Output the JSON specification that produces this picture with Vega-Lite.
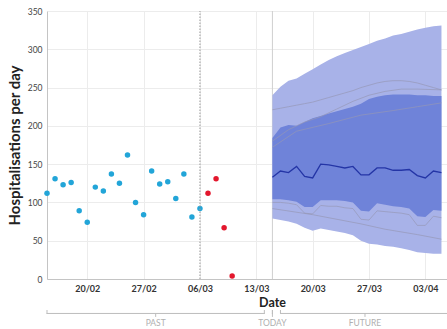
{
  "$schema": "https://vega.github.io/schema/vega-lite/v6.json",
  "width": 400,
  "height": 268,
  "autosize": {"type": "none"},
  "padding": {"left": 47, "top": 11, "right": 0, "bottom": 50},
  "background": "white",
  "config": {
    "view": {"stroke": null},
    "font": "Lato",
    "axis": {"gridColor": "#ececec", "domainColor": "#c4c4c4", "ticks": false},
    "axisX": {
      "labelFontSize": 9, "labelFontWeight": "bold", "labelColor": "#333", "labelPadding": 5,
      "titleFontSize": 12.5, "titleFontWeight": "bold", "titleColor": "#222",
      "titleX": 225, "titleY": 27, "titleBaseline": "alphabetic"
    },
    "axisY": {
      "labelFontSize": 8.5, "labelColor": "#444", "labelPadding": 5,
      "titleFontSize": 15, "titleFontWeight": "bold", "titleColor": "#222", "titlePadding": 5
    }
  },
  "datasets": {
    "obs": [
      {"date": "2021-02-15", "value": 112, "kind": "past"},
      {"date": "2021-02-16", "value": 131, "kind": "past"},
      {"date": "2021-02-17", "value": 123, "kind": "past"},
      {"date": "2021-02-18", "value": 126, "kind": "past"},
      {"date": "2021-02-19", "value": 89, "kind": "past"},
      {"date": "2021-02-20", "value": 74, "kind": "past"},
      {"date": "2021-02-21", "value": 120, "kind": "past"},
      {"date": "2021-02-22", "value": 115, "kind": "past"},
      {"date": "2021-02-23", "value": 137, "kind": "past"},
      {"date": "2021-02-24", "value": 125, "kind": "past"},
      {"date": "2021-02-25", "value": 162, "kind": "past"},
      {"date": "2021-02-26", "value": 100, "kind": "past"},
      {"date": "2021-02-27", "value": 84, "kind": "past"},
      {"date": "2021-02-28", "value": 141, "kind": "past"},
      {"date": "2021-03-01", "value": 124, "kind": "past"},
      {"date": "2021-03-02", "value": 127, "kind": "past"},
      {"date": "2021-03-03", "value": 105, "kind": "past"},
      {"date": "2021-03-04", "value": 137, "kind": "past"},
      {"date": "2021-03-05", "value": 81, "kind": "past"},
      {"date": "2021-03-06", "value": 92, "kind": "past"},
      {"date": "2021-03-07", "value": 112, "kind": "recent"},
      {"date": "2021-03-08", "value": 131, "kind": "recent"},
      {"date": "2021-03-09", "value": 67, "kind": "recent"},
      {"date": "2021-03-10", "value": 4, "kind": "recent"}
    ],
    "fc": [
      {"date": "2021-03-15", "lo90": 79, "hi90": 240, "lo50": 104, "hi50": 184, "med": 133},
      {"date": "2021-03-16", "lo90": 77, "hi90": 251, "lo50": 104, "hi50": 198, "med": 141},
      {"date": "2021-03-17", "lo90": 75, "hi90": 259, "lo50": 103, "hi50": 201, "med": 139},
      {"date": "2021-03-18", "lo90": 72, "hi90": 262, "lo50": 101, "hi50": 200, "med": 147},
      {"date": "2021-03-19", "lo90": 67, "hi90": 268, "lo50": 94, "hi50": 205, "med": 134},
      {"date": "2021-03-20", "lo90": 63, "hi90": 274, "lo50": 94, "hi50": 210, "med": 132},
      {"date": "2021-03-21", "lo90": 66, "hi90": 280, "lo50": 103, "hi50": 213, "med": 150},
      {"date": "2021-03-22", "lo90": 64, "hi90": 286, "lo50": 103, "hi50": 216, "med": 149},
      {"date": "2021-03-23", "lo90": 62, "hi90": 291, "lo50": 103, "hi50": 219, "med": 147},
      {"date": "2021-03-24", "lo90": 60, "hi90": 295, "lo50": 102, "hi50": 222, "med": 145},
      {"date": "2021-03-25", "lo90": 57, "hi90": 299, "lo50": 100, "hi50": 225, "med": 147},
      {"date": "2021-03-26", "lo90": 50, "hi90": 303, "lo50": 89, "hi50": 229, "med": 136},
      {"date": "2021-03-27", "lo90": 46, "hi90": 307, "lo50": 88, "hi50": 235, "med": 136},
      {"date": "2021-03-28", "lo90": 45, "hi90": 311, "lo50": 99, "hi50": 238, "med": 145},
      {"date": "2021-03-29", "lo90": 43, "hi90": 314, "lo50": 97, "hi50": 240, "med": 145},
      {"date": "2021-03-30", "lo90": 42, "hi90": 318, "lo50": 95, "hi50": 241, "med": 142},
      {"date": "2021-03-31", "lo90": 40, "hi90": 320, "lo50": 94, "hi50": 241, "med": 142},
      {"date": "2021-04-01", "lo90": 38, "hi90": 323, "lo50": 92, "hi50": 241, "med": 143},
      {"date": "2021-04-02", "lo90": 35, "hi90": 326, "lo50": 82, "hi50": 240, "med": 135},
      {"date": "2021-04-03", "lo90": 34, "hi90": 328, "lo50": 81, "hi50": 240, "med": 132},
      {"date": "2021-04-04", "lo90": 33, "hi90": 330, "lo50": 90, "hi50": 239, "med": 141},
      {"date": "2021-04-05", "lo90": 33, "hi90": 331, "lo50": 89, "hi50": 239, "med": 139}
    ],
    "traj": [
      {"id": "A", "date": "2021-03-15", "value": 221},
      {"id": "A", "date": "2021-03-16", "value": 223},
      {"id": "A", "date": "2021-03-17", "value": 225},
      {"id": "A", "date": "2021-03-18", "value": 227},
      {"id": "A", "date": "2021-03-19", "value": 229},
      {"id": "A", "date": "2021-03-20", "value": 231},
      {"id": "A", "date": "2021-03-21", "value": 234},
      {"id": "A", "date": "2021-03-22", "value": 237},
      {"id": "A", "date": "2021-03-23", "value": 240},
      {"id": "A", "date": "2021-03-24", "value": 243},
      {"id": "A", "date": "2021-03-25", "value": 246},
      {"id": "A", "date": "2021-03-26", "value": 250},
      {"id": "A", "date": "2021-03-27", "value": 253},
      {"id": "A", "date": "2021-03-28", "value": 256},
      {"id": "A", "date": "2021-03-29", "value": 258},
      {"id": "A", "date": "2021-03-30", "value": 259},
      {"id": "A", "date": "2021-03-31", "value": 259},
      {"id": "A", "date": "2021-04-01", "value": 258},
      {"id": "A", "date": "2021-04-02", "value": 256},
      {"id": "A", "date": "2021-04-03", "value": 253},
      {"id": "A", "date": "2021-04-04", "value": 250},
      {"id": "A", "date": "2021-04-05", "value": 247},
      {"id": "B", "date": "2021-03-15", "value": 180},
      {"id": "B", "date": "2021-03-17", "value": 195},
      {"id": "B", "date": "2021-03-19", "value": 205},
      {"id": "B", "date": "2021-03-21", "value": 212},
      {"id": "B", "date": "2021-03-23", "value": 222},
      {"id": "B", "date": "2021-03-25", "value": 232},
      {"id": "B", "date": "2021-03-27", "value": 240},
      {"id": "B", "date": "2021-03-29", "value": 245},
      {"id": "B", "date": "2021-03-31", "value": 248},
      {"id": "B", "date": "2021-04-02", "value": 248},
      {"id": "B", "date": "2021-04-05", "value": 247},
      {"id": "C", "date": "2021-03-15", "value": 172},
      {"id": "C", "date": "2021-03-18", "value": 193},
      {"id": "C", "date": "2021-03-22", "value": 203},
      {"id": "C", "date": "2021-03-26", "value": 214},
      {"id": "C", "date": "2021-03-30", "value": 220},
      {"id": "C", "date": "2021-04-02", "value": 225},
      {"id": "C", "date": "2021-04-05", "value": 230},
      {"id": "D", "date": "2021-03-15", "value": 92},
      {"id": "D", "date": "2021-03-20", "value": 84},
      {"id": "D", "date": "2021-03-26", "value": 72},
      {"id": "D", "date": "2021-03-29", "value": 65},
      {"id": "D", "date": "2021-04-02", "value": 58},
      {"id": "D", "date": "2021-04-05", "value": 52},
      {"id": "E", "date": "2021-03-15", "value": 100},
      {"id": "E", "date": "2021-03-16", "value": 100},
      {"id": "E", "date": "2021-03-17", "value": 99},
      {"id": "E", "date": "2021-03-18", "value": 97},
      {"id": "E", "date": "2021-03-19", "value": 86},
      {"id": "E", "date": "2021-03-20", "value": 85},
      {"id": "E", "date": "2021-03-21", "value": 96},
      {"id": "E", "date": "2021-03-22", "value": 95},
      {"id": "E", "date": "2021-03-23", "value": 95},
      {"id": "E", "date": "2021-03-24", "value": 93},
      {"id": "E", "date": "2021-03-25", "value": 92},
      {"id": "E", "date": "2021-03-26", "value": 78},
      {"id": "E", "date": "2021-03-27", "value": 77},
      {"id": "E", "date": "2021-03-28", "value": 89},
      {"id": "E", "date": "2021-03-29", "value": 88},
      {"id": "E", "date": "2021-03-30", "value": 87},
      {"id": "E", "date": "2021-03-31", "value": 86},
      {"id": "E", "date": "2021-04-01", "value": 84},
      {"id": "E", "date": "2021-04-02", "value": 70},
      {"id": "E", "date": "2021-04-03", "value": 70},
      {"id": "E", "date": "2021-04-04", "value": 82},
      {"id": "E", "date": "2021-04-05", "value": 80}
    ],
    "markers": [
      {"date": "2021-03-06", "kind": "last"},
      {"date": "2021-03-15", "kind": "today"}
    ],
    "braces": [
      {"start": "2021-02-15", "end": "2021-03-14", "mid": "2021-02-28T12:00:00Z", "label": "PAST"},
      {"start": "2021-03-15", "end": "2021-03-15", "mid": "2021-03-15", "label": "TODAY"},
      {"start": "2021-03-16", "end": "2021-04-06", "mid": "2021-03-26T12:00:00Z", "label": "FUTURE"}
    ]
  },
  "layer": [
    {
      "data": {"name": "obs"},
      "mark": {"type": "circle", "size": 30, "opacity": 1},
      "encoding": {
        "x": {"field": "date", "type": "temporal", "title": "Date",
          "scale": {"type": "utc", "domain": [1613347200000, 1617640200000]},
          "axis": {"labelExpr": "utcFormat(datum.value, '%d/%m')", "values": [1613779200000, 1614384000000, 1614988800000, 1615593600000, 1616198400000, 1616803200000, 1617408000000]}},
        "y": {"field": "value", "type": "quantitative", "title": "Hospitalisations per day",
          "scale": {"domain": [0, 350], "nice": false},
          "axis": {"values": [0, 50, 100, 150, 200, 250, 300, 350]}},
        "color": {"field": "kind", "type": "nominal", "scale": {"domain": ["past", "recent"], "range": ["#22a5d8", "#e3172d"]}, "legend": null}
      }
    },
    {
      "data": {"name": "markers"},
      "transform": [{"filter": "datum.kind == 'today'"}],
      "mark": {"type": "rule", "color": "#cfcfcf", "strokeWidth": 1},
      "encoding": {
        "x": {"field": "date", "type": "temporal", "title": "Date", "axis": {"labelExpr": "utcFormat(datum.value, '%d/%m')", "values": [1613779200000, 1614384000000, 1614988800000, 1615593600000, 1616198400000, 1616803200000, 1617408000000]}},
        "y": {"datum": 0, "title": "Hospitalisations per day", "axis": {"values": [0, 50, 100, 150, 200, 250, 300, 350]}},
        "y2": {"datum": 350}
      }
    },
    {
      "data": {"name": "fc"},
      "mark": {"type": "area", "color": "#a8b2e8", "opacity": 1},
      "encoding": {
        "x": {"field": "date", "type": "temporal", "title": "Date", "axis": {"labelExpr": "utcFormat(datum.value, '%d/%m')", "values": [1613779200000, 1614384000000, 1614988800000, 1615593600000, 1616198400000, 1616803200000, 1617408000000]}},
        "y": {"field": "lo90", "type": "quantitative", "title": "Hospitalisations per day", "axis": {"values": [0, 50, 100, 150, 200, 250, 300, 350]}},
        "y2": {"field": "hi90"}
      }
    },
    {
      "data": {"name": "fc"},
      "mark": {"type": "area", "color": "#6f83d9", "opacity": 1},
      "encoding": {
        "x": {"field": "date", "type": "temporal", "title": "Date", "axis": {"labelExpr": "utcFormat(datum.value, '%d/%m')", "values": [1613779200000, 1614384000000, 1614988800000, 1615593600000, 1616198400000, 1616803200000, 1617408000000]}},
        "y": {"field": "lo50", "type": "quantitative", "title": "Hospitalisations per day", "axis": {"values": [0, 50, 100, 150, 200, 250, 300, 350]}},
        "y2": {"field": "hi50"}
      }
    },
    {
      "data": {"name": "traj"},
      "mark": {"type": "line", "color": "#9597b4", "strokeWidth": 0.9, "opacity": 0.75},
      "encoding": {
        "x": {"field": "date", "type": "temporal", "title": "Date", "axis": {"labelExpr": "utcFormat(datum.value, '%d/%m')", "values": [1613779200000, 1614384000000, 1614988800000, 1615593600000, 1616198400000, 1616803200000, 1617408000000]}},
        "y": {"field": "value", "type": "quantitative", "title": "Hospitalisations per day", "axis": {"values": [0, 50, 100, 150, 200, 250, 300, 350]}},
        "detail": {"field": "id"}
      }
    },
    {
      "data": {"name": "fc"},
      "mark": {"type": "line", "color": "#2435a6", "strokeWidth": 1.3},
      "encoding": {
        "x": {"field": "date", "type": "temporal", "title": "Date", "axis": {"labelExpr": "utcFormat(datum.value, '%d/%m')", "values": [1613779200000, 1614384000000, 1614988800000, 1615593600000, 1616198400000, 1616803200000, 1617408000000]}},
        "y": {"field": "med", "type": "quantitative", "title": "Hospitalisations per day", "axis": {"values": [0, 50, 100, 150, 200, 250, 300, 350]}}
      }
    },
    {
      "data": {"name": "markers"},
      "transform": [{"filter": "datum.kind == 'last'"}],
      "mark": {"type": "rule", "color": "#9a9a9a", "strokeWidth": 1, "strokeDash": [1.5, 1.5]},
      "encoding": {
        "x": {"field": "date", "type": "temporal", "title": "Date", "axis": {"labelExpr": "utcFormat(datum.value, '%d/%m')", "values": [1613779200000, 1614384000000, 1614988800000, 1615593600000, 1616198400000, 1616803200000, 1617408000000]}},
        "y": {"datum": 0, "title": "Hospitalisations per day", "axis": {"values": [0, 50, 100, 150, 200, 250, 300, 350]}},
        "y2": {"datum": 350}
      }
    },
    {
      "data": {"name": "braces"},
      "mark": {"type": "rule", "color": "#bdbdbd", "strokeWidth": 1, "strokeCap": "round"},
      "encoding": {
        "x": {"field": "start", "type": "temporal", "title": "Date", "axis": {"labelExpr": "utcFormat(datum.value, '%d/%m')", "values": [1613779200000, 1614384000000, 1614988800000, 1615593600000, 1616198400000, 1616803200000, 1617408000000]}},
        "x2": {"field": "end"},
        "y": {"datum": -45, "title": "Hospitalisations per day", "axis": {"values": [0, 50, 100, 150, 200, 250, 300, 350]}}
      }
    },
    {
      "data": {"name": "braces"},
      "mark": {"type": "rule", "color": "#bdbdbd", "strokeWidth": 1, "strokeCap": "round"},
      "encoding": {
        "x": {"field": "start", "type": "temporal", "title": "Date", "axis": {"labelExpr": "utcFormat(datum.value, '%d/%m')", "values": [1613779200000, 1614384000000, 1614988800000, 1615593600000, 1616198400000, 1616803200000, 1617408000000]}},
        "y": {"datum": -41, "title": "Hospitalisations per day", "axis": {"values": [0, 50, 100, 150, 200, 250, 300, 350]}},
        "y2": {"datum": -45}
      }
    },
    {
      "data": {"name": "braces"},
      "mark": {"type": "rule", "color": "#bdbdbd", "strokeWidth": 1, "strokeCap": "round"},
      "encoding": {
        "x": {"field": "end", "type": "temporal", "title": "Date", "axis": {"labelExpr": "utcFormat(datum.value, '%d/%m')", "values": [1613779200000, 1614384000000, 1614988800000, 1615593600000, 1616198400000, 1616803200000, 1617408000000]}},
        "y": {"datum": -41, "title": "Hospitalisations per day", "axis": {"values": [0, 50, 100, 150, 200, 250, 300, 350]}},
        "y2": {"datum": -45}
      }
    },
    {
      "data": {"name": "braces"},
      "mark": {"type": "rule", "color": "#bdbdbd", "strokeWidth": 1, "strokeCap": "round"},
      "encoding": {
        "x": {"field": "mid", "type": "temporal", "title": "Date", "axis": {"labelExpr": "utcFormat(datum.value, '%d/%m')", "values": [1613779200000, 1614384000000, 1614988800000, 1615593600000, 1616198400000, 1616803200000, 1617408000000]}},
        "y": {"datum": -45, "title": "Hospitalisations per day", "axis": {"values": [0, 50, 100, 150, 200, 250, 300, 350]}},
        "y2": {"datum": -49}
      }
    },
    {
      "data": {"name": "braces"},
      "mark": {"type": "text", "color": "#b0b0b0", "fontSize": 8.5, "baseline": "middle", "align": "center"},
      "encoding": {
        "x": {"field": "mid", "type": "temporal", "title": "Date", "axis": {"labelExpr": "utcFormat(datum.value, '%d/%m')", "values": [1613779200000, 1614384000000, 1614988800000, 1615593600000, 1616198400000, 1616803200000, 1617408000000]}},
        "y": {"datum": -58, "title": "Hospitalisations per day", "axis": {"values": [0, 50, 100, 150, 200, 250, 300, 350]}},
        "text": {"field": "label"}
      }
    }
  ]
}
